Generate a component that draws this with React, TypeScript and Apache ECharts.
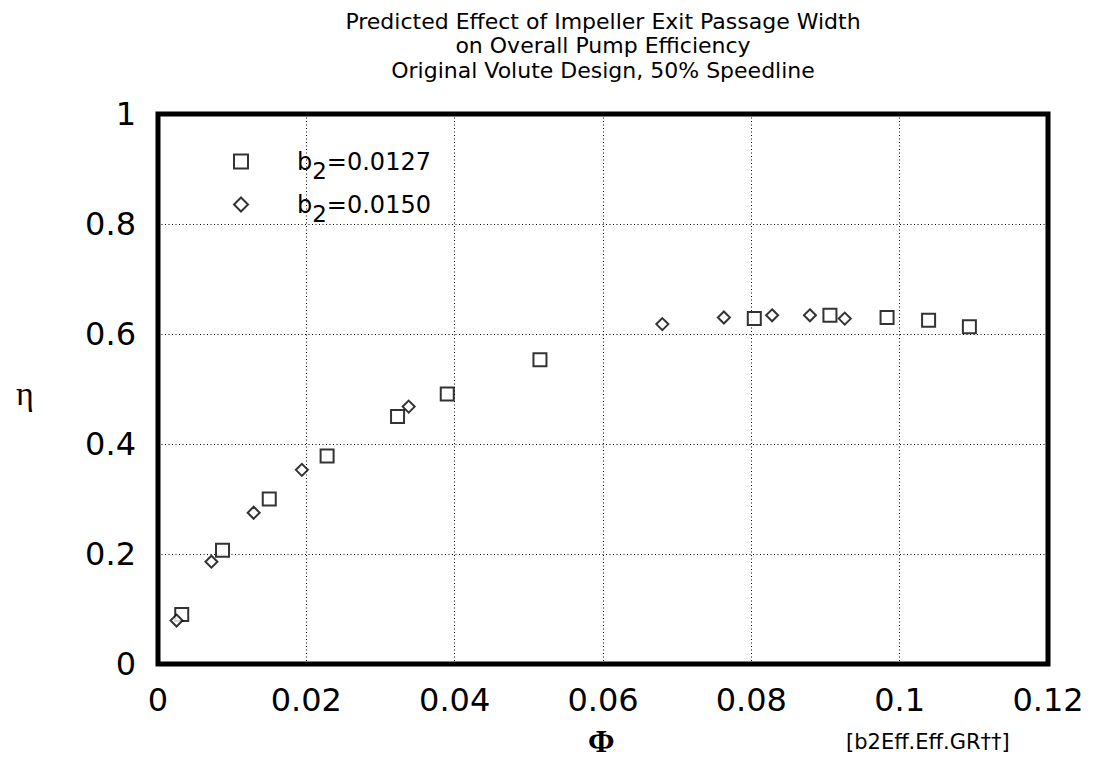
import React, { useEffect, useRef } from "react";
import * as echarts from "echarts";

const titleLines = [
  "Predicted Effect of Impeller Exit Passage Width",
  "on Overall Pump Efficiency",
  "Original Volute Design, 50% Speedline",
];
const xTicks = { min: 0, max: 0.12, interval: 0.02 };
const yTicks = { min: 0, max: 1, interval: 0.2 };

const seriesNames = ["b2=0.0127", "b2=0.0150"];
const legendMain = ["=0.0127", "=0.0150"];

const phiSquare = [0.0032, 0.0087, 0.015, 0.0228, 0.0323, 0.039, 0.0515, 0.0804, 0.0906, 0.0983, 0.1039, 0.1094];
const etaSquare = [0.09, 0.207, 0.3, 0.378, 0.45, 0.491, 0.553, 0.628, 0.634, 0.63, 0.625, 0.613];

const phiDiamond = [0.0025, 0.0072, 0.0129, 0.0194, 0.0338, 0.068, 0.0763, 0.0828, 0.0879, 0.0926];
const etaDiamond = [0.079, 0.186, 0.275, 0.353, 0.468, 0.618, 0.63, 0.634, 0.634, 0.628];

const tagText = "[b2Eff.Eff.GR††]";

const SANS = "DejaVu Sans";
const SERIF = "Liberation Serif";

function fmt(v: number) {
  return String(parseFloat(v.toFixed(4)));
}

export default function App() {
  const ref = useRef<HTMLDivElement>(null);
  useEffect(() => {
    if (!ref.current) return;
    const chart = echarts.init(ref.current, null, { renderer: "svg" });
    const splitStyle = { show: true, lineStyle: { color: "#000", width: 1, type: [1, 2.5] as any } };
    chart.setOption({
      animation: false,
      backgroundColor: "#fff",
      title: {
        text: titleLines.join("\n"),
        left: 598,
        top: 4,
        textAlign: "center",
        textStyle: { fontFamily: SANS, fontSize: 22, lineHeight: 24.5, fontWeight: "normal", color: "#000" },
      },
      grid: {
        left: 158,
        right: 46,
        top: 114,
        bottom: 98,
        show: true,
        borderWidth: 5,
        borderColor: "#000",
        backgroundColor: "#fff",
      },
      xAxis: {
        type: "value",
        min: xTicks.min,
        max: xTicks.max,
        interval: xTicks.interval,
        axisLine: { show: false },
        axisTick: { show: false },
        splitLine: splitStyle,
        axisLabel: { formatter: fmt, color: "#000", fontFamily: SANS, fontSize: 32, margin: 20 },
      },
      yAxis: {
        type: "value",
        min: yTicks.min,
        max: yTicks.max,
        interval: yTicks.interval,
        axisLine: { show: false },
        axisTick: { show: false },
        splitLine: splitStyle,
        axisLabel: { formatter: fmt, color: "#000", fontFamily: SANS, fontSize: 32, margin: 22 },
      },
      legend: {
        orient: "vertical",
        left: 228,
        top: 136,
        itemWidth: 14,
        itemHeight: 14,
        itemGap: 2,
        data: seriesNames,
        formatter: (name: string) => {
          const i = seriesNames.indexOf(name);
          return "{p|}{a|b}{s|2}{a|" + legendMain[i] + "}";
        },
        textStyle: {
          color: "#000",
          rich: {
            p: { width: 44, lineHeight: 41 },
            a: { fontFamily: SANS, fontSize: 24, lineHeight: 41, color: "#000" },
            s: { fontFamily: SANS, fontSize: 23, lineHeight: 23, padding: [18, 0, 0, 0], color: "#000" },
          },
        },
      },
      graphic: [
        {
          type: "text",
          left: 16,
          top: 376,
          style: { text: "η", font: "34px " + SERIF, fill: "#000" },
        },
        {
          type: "text",
          left: 588,
          top: 725,
          style: { text: "Φ", font: "bold 32px " + SERIF, fill: "#000" },
        },
        {
          type: "text",
          left: 846,
          top: 731,
          style: { text: tagText, font: "21px " + SANS, fill: "#000" },
        },
      ],
      series: [
        {
          name: seriesNames[0],
          type: "scatter",
          symbol: "rect",
          symbolSize: 13,
          itemStyle: { color: "#fff", borderColor: "#000", borderWidth: 2 },
          data: phiSquare.map((x, i) => [x, etaSquare[i]]),
          z: 3,
        },
        {
          name: seriesNames[1],
          type: "scatter",
          symbol: "diamond",
          symbolSize: 12,
          itemStyle: { color: "#fff", borderColor: "#000", borderWidth: 2 },
          data: phiDiamond.map((x, i) => [x, etaDiamond[i]]),
          z: 4,
        },
      ],
    });
    return () => chart.dispose();
  }, []);
  return <div ref={ref} style={{ width: 1094, height: 762, position: "absolute", left: 0, top: 0 }} />;
}
